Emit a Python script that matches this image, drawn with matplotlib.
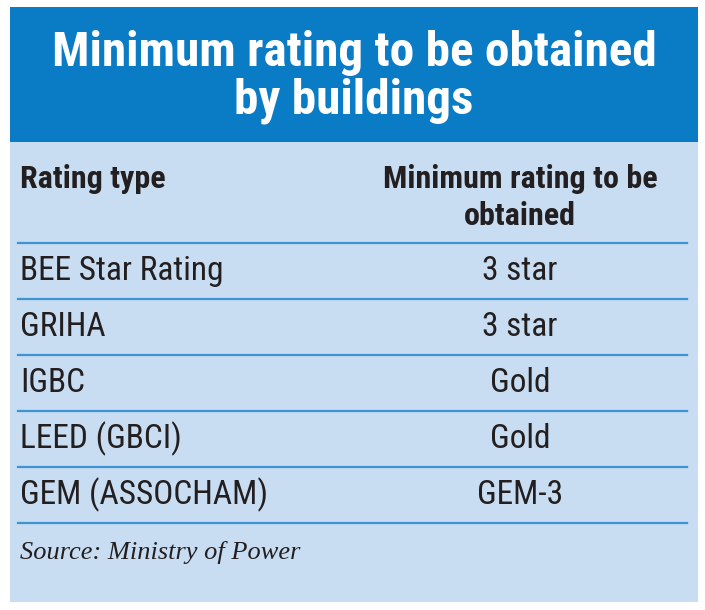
import matplotlib.pyplot as plt
from matplotlib.patches import Rectangle

# datos de la tabla
titulo = ['Minimum rating to be obtained', 'by buildings']
cabecera = ['Rating type', 'Minimum rating to be', 'obtained']
tipos = ['BEE Star Rating', 'GRIHA', 'IGBC', 'LEED (GBCI)', 'GEM (ASSOCHAM)']
minimos = ['3 star', '3 star', 'Gold', 'Gold', 'GEM-3']
fuente = 'Source: Ministry of Power'

azul = '#0a7cc6'
celeste = '#c8ddf1'
linea = '#3d93d3'
tinta = '#231f20'
narrow = ['Roboto Condensed', 'DejaVu Sans']

fig = plt.figure(figsize=(7.05, 6.1), dpi=100)
ax = fig.add_axes([0, 0, 1, 1])
ax.set_xlim(0, 705)
ax.set_ylim(610, 0)
ax.axis('off')

# fondos
ax.add_patch(Rectangle((10, 7), 688, 595, color=celeste, lw=0))
ax.add_patch(Rectangle((10, 7), 688, 135, color=azul, lw=0))

# titulo
for i, t in enumerate(titulo):
    ax.text(354, 53 + 48 * i, t, color='white', fontsize=35.5, fontweight='bold',
            family=narrow, ha='center', va='center')

# cabecera
ax.text(20, 179, cabecera[0], fontsize=23, fontweight='bold', family=narrow,
        color=tinta, ha='left', va='center')
for i, t in enumerate(cabecera[1:]):
    ax.text(520, 179 + 37 * i, t, fontsize=23, fontweight='bold', family=narrow,
            color=tinta, ha='center', va='center')

y0 = 243
paso = 56
ax.plot([18, 687], [y0, y0], color=linea, lw=1.6)
for k, (tp, mn) in enumerate(zip(tipos, minimos)):
    yc = y0 + paso * k + paso / 2
    ax.text(20, yc, tp, fontsize=24, family=narrow, color=tinta,
            ha='left', va='center')
    ax.text(520, yc, mn, fontsize=24, family=narrow, color=tinta,
            ha='center', va='center')
    yl = y0 + paso * (k + 1)
    ax.plot([18, 687], [yl, yl], color=linea, lw=1.6)

ax.text(20, 552, fuente, fontsize=19, family=['Liberation Serif', 'DejaVu Serif'],
        style='italic', color=tinta, ha='left', va='center')

fig.savefig('out.png', dpi=100)
